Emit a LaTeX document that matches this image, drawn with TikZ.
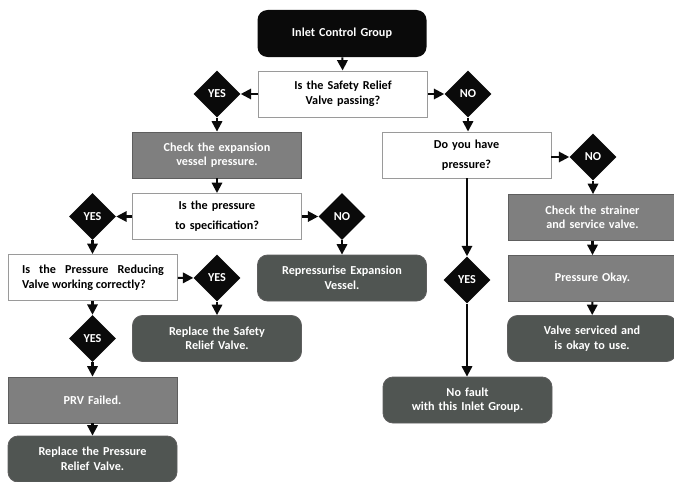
\documentclass[tikz,border=0pt]{standalone}
\usepackage{fontspec}
\setmainfont{Carlito}
\usepackage{tikz}
\usetikzlibrary{shapes.geometric,arrows.meta}
\definecolor{startfill}{HTML}{0A0A0A}
\definecolor{actionfill}{HTML}{7F7F7F}
\definecolor{actionline}{HTML}{5E5E5E}
\definecolor{resultfill}{HTML}{505552}
\definecolor{questionline}{HTML}{9A9A9A}
\tikzset{>={Triangle[width=7.5pt,length=7.5pt]},
  flowtext/.style={font=\fontsize{8.8}{10.5}\selectfont\bfseries},
  startbox/.style={flowtext,shape=rectangle,rounded corners=0.1in,fill=startfill,text=white,minimum height=0.47in,minimum width=1.69in,text width=1.55in,align=center},
  questionbox/.style={flowtext,shape=rectangle,draw=questionline,line width=0.7pt,fill=white,minimum height=0.46in,minimum width=1.69in,text width=1.55in,align=center},
  actionbox/.style={flowtext,shape=rectangle,draw=actionline,line width=0.6pt,fill=actionfill,text=white,minimum height=0.46in,minimum width=1.69in,text width=1.55in,align=center},
  resultbox/.style={flowtext,shape=rectangle,rounded corners=0.1in,draw=actionline,line width=0.6pt,fill=resultfill,text=white,minimum height=0.46in,minimum width=1.69in,text width=1.55in,align=center},
  decision/.style={flowtext,shape=diamond,aspect=1,fill=startfill,text=white,minimum size=0.47in,inner sep=0pt},
  flowline/.style={->,line width=1.5pt,draw=startfill}}
\begin{document}
\begin{tikzpicture}

\useasboundingbox (0in,0in) rectangle (6.74in,-4.82in);

\path (3.42in,-0.335in) node (inlet) [startbox]{Inlet Control Group};

\path (3.43in,-0.94in) node (relief) [questionbox]{Is the Safety Relief\\Valve passing?};

\path (2.17in,-0.94in) node (yesrelief) [decision]{YES};

\path (4.68in,-0.94in) node (norelief) [decision]{NO};

\path (2.17in,-1.55in) node (expansion) [actionbox]{Check the expansion\\vessel pressure.};

\path (2.17in,-2.165in) node (spec) [questionbox]{Is the pressure\\[4pt]to specification?};

\path (0.925in,-2.165in) node (yesspec) [decision]{YES};

\path (3.42in,-2.165in) node (nospec) [decision]{NO};

\path (3.42in,-2.78in) node (repress) [resultbox]{Repressurise Expansion\\Vessel.};

\path (0.93in,-2.775in) node (reducing) [questionbox,text width=1.42in,align=justify]{Is the Pressure Reducing Valve working correctly?};

\path (2.17in,-2.78in) node (yesreducing) [decision]{YES};

\path (2.17in,-3.385in) node (safety) [resultbox]{Replace the Safety\\Relief Valve.};

\path (0.925in,-3.385in) node (yesprv) [decision]{YES};

\path (0.925in,-4.0in) node (prvfail) [actionbox]{PRV Failed.};

\path (0.925in,-4.59in) node (prvreplace) [resultbox]{Replace the Pressure\\Relief Valve.};

\path (4.665in,-1.55in) node (havepress) [questionbox]{Do you have\\[4pt]pressure?};

\path (5.93in,-1.57in) node (nopress) [decision]{NO};

\path (5.925in,-2.175in) node (strainer) [actionbox]{Check the strainer\\and service valve.};

\path (5.925in,-2.785in) node (pressok) [actionbox]{Pressure Okay.};

\path (5.92in,-3.385in) node (serviced) [resultbox]{Valve serviced and\\is okay to use.};

\path (4.67in,-2.8in) node (yespress) [decision]{YES};

\path (4.675in,-4.0in) node (nofault) [resultbox]{No fault\\with this Inlet Group.};

\draw [flowline] (inlet) -- (relief);
\draw [flowline] (relief) -- (yesrelief);
\draw [flowline] (relief) -- (norelief);
\draw [flowline] (yesrelief) -- (expansion);
\draw [flowline] (norelief) -- (havepress.north -| norelief);
\draw [flowline] (expansion) -- (spec);
\draw [flowline] (spec) -- (yesspec);
\draw [flowline] (spec) -- (nospec);
\draw [flowline] (nospec) -- (repress);
\draw [flowline] (yesspec) -- (reducing.north -| yesspec);
\draw [flowline] (reducing) -- (yesreducing);
\draw [flowline] (yesreducing) -- (safety);
\draw [flowline] (reducing.south -| yesprv) -- (yesprv);
\draw [flowline] (yesprv) -- (prvfail);
\draw [flowline] (prvfail) -- (prvreplace);
\draw [flowline] (havepress.east |- nopress) -- (nopress);
\draw [flowline] (nopress) -- (strainer.north -| nopress);
\draw [flowline] (strainer) -- (pressok);
\draw [flowline] (pressok) -- (serviced);
\draw [flowline] (havepress.south -| yespress) -- (yespress);
\draw [flowline] (yespress) -- (nofault.north -| yespress);

\end{tikzpicture}
\end{document}
